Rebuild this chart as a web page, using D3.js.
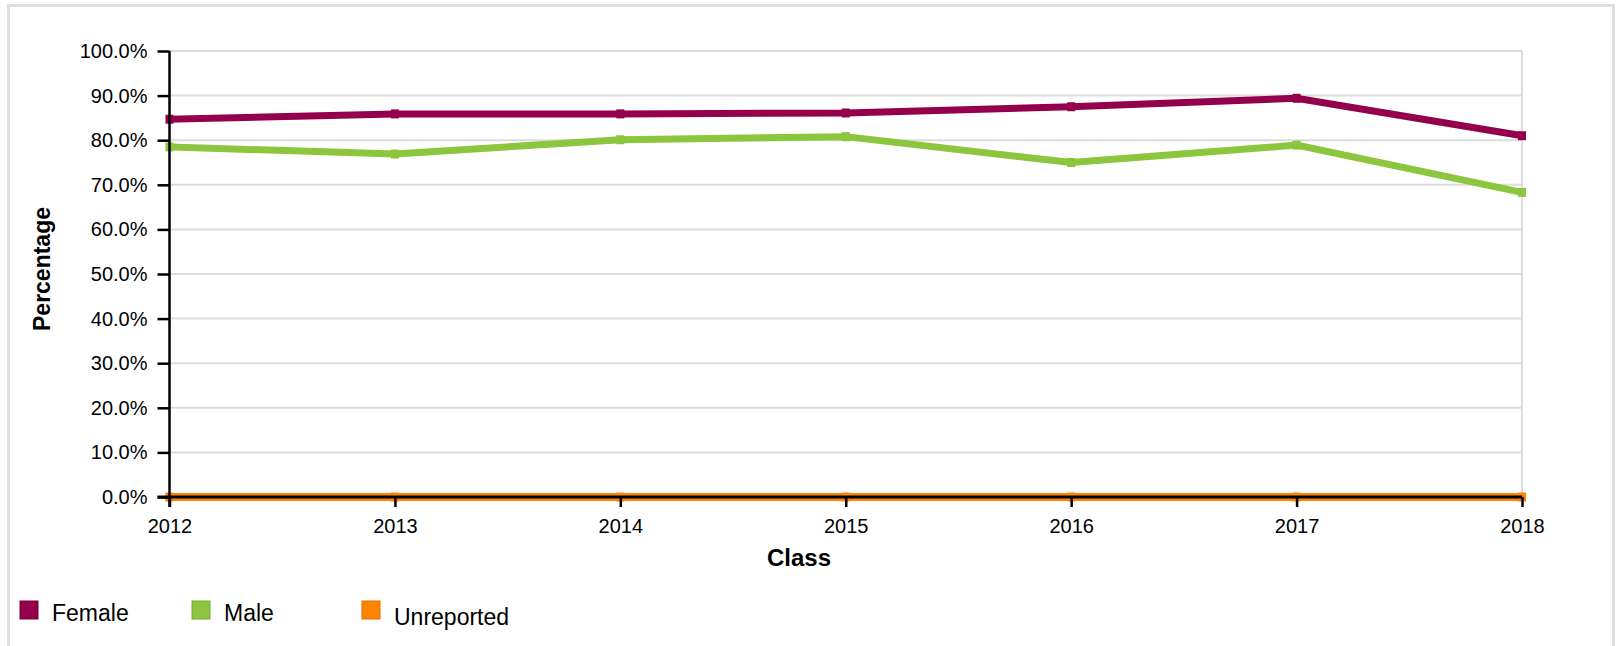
<!DOCTYPE html>
<html>
<head>
<meta charset="utf-8">
<script src="https://cdn.jsdelivr.net/npm/d3@7"></script>
<style>
  body { margin: 0; background: #fff; }
  svg { display: block; font-family: "Liberation Sans", Arial, sans-serif; }
  .tick text { font-size: 20px; fill: #000; }
</style>
</head>
<body>
<div id="chart"></div>
<script>
// values
let classes = [2012, 2013, 2014, 2015, 2016, 2017, 2018];
let female = [84.7, 85.9, 85.9, 86.1, 87.5, 89.4, 81.0];
let male = [78.5, 76.9, 80.1, 80.8, 75.0, 78.9, 68.3];
let unreported = [0, 0, 0, 0, 0, 0, 0];
let yTicks = [0, 10, 20, 30, 40, 50, 60, 70, 80, 90, 100];

let seriesNames = ["Female", "Male", "Unreported"];
let palette = ["#94004c", "#8cc63e", "#ff8400"];
let borders = ["#7a003e", "#74a833", "#d96f00"];

let W = 1621, H = 646;
let margin = {top: 51, left: 169.5, right: W - 1522, bottom: H - 497};

let svg = d3.select("#chart").append("svg")
  .attr("width", W)
  .attr("height", H);

// outer frame
svg.append("rect")
  .attr("x", 8.5).attr("y", 5.5)
  .attr("width", 1605).attr("height", 660)
  .attr("fill", "none")
  .attr("stroke", "#dedede")
  .attr("stroke-width", 3);

let x = d3.scaleLinear()
  .domain([classes[0], classes[classes.length - 1]])
  .range([margin.left, W - margin.right]);

let y = d3.scaleLinear()
  .domain([0, 100])
  .range([H - margin.bottom, margin.top]);

// horizontal grid
svg.append("g")
  .selectAll("line")
  .data(yTicks.slice(1))
  .enter()
  .append("line")
  .attr("x1", x.range()[0])
  .attr("x2", x.range()[1])
  .attr("y1", d => y(d))
  .attr("y2", d => y(d))
  .attr("stroke", "#dcdcdc")
  .attr("stroke-width", 2);

// right edge of plot area
svg.append("line")
  .attr("x1", x.range()[1]).attr("x2", x.range()[1])
  .attr("y1", y(100)).attr("y2", y(0))
  .attr("stroke", "#dcdcdc")
  .attr("stroke-width", 2);

// lines
let allSeries = [female, male, unreported];
let line = d3.line()
  .x((d, i) => x(classes[i]))
  .y(d => y(d));

allSeries.forEach(function(vals, si) {
  svg.append("path")
    .datum(vals)
    .attr("d", line)
    .attr("fill", "none")
    .attr("stroke", palette[si])
    .attr("stroke-width", si == 2 ? 8 : 7)
    .attr("stroke-linecap", "square")
    .attr("stroke-linejoin", "miter");

  svg.append("g")
    .selectAll("rect")
    .data(vals)
    .enter()
    .append("rect")
    .attr("x", (d, i) => x(classes[i]) - 4)
    .attr("y", d => y(d) - 4.5)
    .attr("width", 8)
    .attr("height", 9)
    .attr("fill", palette[si]);
});

// y axis
let yAxis = svg.append("g")
  .attr("transform", "translate(" + margin.left + ",0)")
  .call(d3.axisLeft(y)
    .tickValues(yTicks)
    .tickSize(12)
    .tickPadding(10)
    .tickFormat(d => d3.format(".1f")(d) + "%"));
yAxis.selectAll("line").attr("stroke", "#000").attr("stroke-width", 2.5);
yAxis.select(".domain").attr("stroke", "#000").attr("stroke-width", 2.5)
  .attr("d", "M0," + y(100) + "V" + (y(0) + 10));
yAxis.selectAll("text").attr("font-family", "Liberation Sans, Arial, sans-serif").attr("font-size", 20);

// x axis
let xAxis = svg.append("g")
  .attr("transform", "translate(0," + y(0) + ")")
  .call(d3.axisBottom(x)
    .tickValues(classes)
    .tickSize(10)
    .tickPadding(12)
    .tickFormat(d3.format("d")));
xAxis.selectAll("line").attr("stroke", "#000").attr("stroke-width", 2.5);
xAxis.select(".domain").attr("stroke", "#000").attr("stroke-width", 3)
  .attr("d", "M" + (x.range()[0] - 12) + ",0H" + x.range()[1]);
xAxis.selectAll("text").attr("font-family", "Liberation Sans, Arial, sans-serif").attr("font-size", 20);

// axis titles
svg.append("text")
  .attr("x", 799)
  .attr("y", 566)
  .attr("text-anchor", "middle")
  .attr("font-size", 24)
  .attr("font-weight", "bold")
  .text("Class");

svg.append("text")
  .attr("transform", "translate(50,269) rotate(-90)")
  .attr("text-anchor", "middle")
  .attr("font-size", 23)
  .attr("font-weight", "bold")
  .text("Percentage");

// legend
let legendX = [20, 192, 362];
let legendBase = [621, 621, 625];
let legend = svg.append("g")
  .selectAll("g")
  .data(seriesNames)
  .enter()
  .append("g");

legend.append("rect")
  .attr("x", (d, i) => legendX[i])
  .attr("y", 601)
  .attr("width", 18)
  .attr("height", 18)
  .attr("fill", (d, i) => palette[i])
  .attr("stroke", (d, i) => borders[i])
  .attr("stroke-width", 1);

legend.append("text")
  .attr("x", (d, i) => legendX[i] + 32)
  .attr("y", (d, i) => legendBase[i])
  .attr("font-size", 23)
  .text(d => d);
</script>
</body>
</html>
